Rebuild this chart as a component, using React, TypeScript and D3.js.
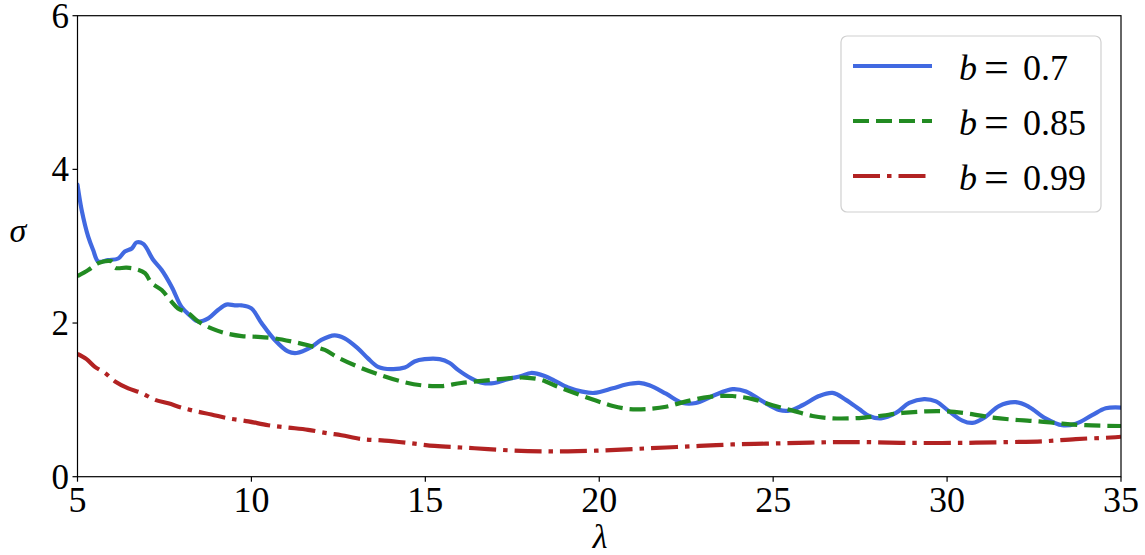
import React from 'react';
import * as d3 from 'd3';

// ---------- data ----------
const xTicks = [5, 10, 15, 20, 25, 30, 35];
const yTicks = [0, 2, 4, 6];

const lambdaBlue = [5.0, 5.12, 5.31, 5.45, 5.6, 5.88, 6.17, 6.36, 6.56, 6.7, 6.89, 7.18, 7.42, 7.71, 7.99, 8.23, 8.47, 8.76, 9.04, 9.28, 9.52, 9.72, 10.0, 10.29, 10.67, 11.05, 11.3, 11.73, 12.01, 12.39, 12.68, 13.06, 13.35, 13.64, 14.02, 14.41, 14.69, 14.98, 15.41, 15.7, 15.94, 16.32, 16.65, 16.99, 17.37, 17.76, 18.04, 18.43, 18.71, 19.1, 19.48, 19.86, 20.39, 20.77, 21.15, 21.44, 21.92, 22.4, 22.78, 23.26, 23.83, 24.22, 24.7, 25.17, 25.46, 25.84, 26.32, 26.71, 27.09, 27.47, 27.76, 28.1, 28.53, 28.91, 29.34, 29.68, 30.06, 30.44, 30.73, 31.11, 31.49, 31.97, 32.35, 32.83, 33.31, 33.7, 34.17, 34.56, 35.0];
const sigmaBlue = [3.8, 3.47, 3.12, 2.95, 2.8, 2.82, 2.84, 2.93, 2.97, 3.05, 3.03, 2.82, 2.69, 2.47, 2.21, 2.1, 2.02, 2.06, 2.17, 2.24, 2.23, 2.23, 2.19, 2.0, 1.78, 1.63, 1.61, 1.69, 1.78, 1.84, 1.8, 1.67, 1.54, 1.43, 1.4, 1.42, 1.5, 1.53, 1.53, 1.48, 1.39, 1.28, 1.22, 1.22, 1.27, 1.31, 1.35, 1.31, 1.25, 1.16, 1.11, 1.09, 1.15, 1.2, 1.22, 1.19, 1.08, 0.96, 0.96, 1.05, 1.14, 1.11, 0.98, 0.87, 0.86, 0.93, 1.05, 1.09, 1.0, 0.88, 0.79, 0.76, 0.83, 0.96, 1.01, 0.98, 0.85, 0.73, 0.7, 0.78, 0.92, 0.97, 0.91, 0.76, 0.67, 0.69, 0.8, 0.89, 0.9];

const lambdaGreen = [5.0, 5.31, 5.6, 5.88, 6.0, 6.08, 6.41, 6.7, 6.94, 7.13, 7.42, 7.66, 7.89, 8.18, 8.47, 8.85, 9.24, 9.72, 10.19, 10.67, 11.15, 11.63, 12.11, 12.45, 12.97, 13.54, 14.31, 14.88, 15.46, 16.03, 16.7, 17.37, 17.85, 18.33, 18.81, 19.29, 19.77, 20.1, 20.39, 20.87, 21.35, 21.92, 22.5, 23.17, 23.83, 24.41, 24.98, 25.56, 26.13, 26.71, 27.28, 27.62, 28.05, 28.72, 29.39, 29.96, 30.63, 31.3, 31.97, 32.64, 33.31, 33.98, 35.0];
const sigmaGreen = [2.61, 2.69, 2.78, 2.81, 2.8, 2.72, 2.72, 2.7, 2.65, 2.52, 2.43, 2.3, 2.19, 2.13, 2.02, 1.93, 1.87, 1.83, 1.82, 1.8, 1.76, 1.71, 1.65, 1.56, 1.45, 1.35, 1.24, 1.19, 1.18, 1.22, 1.25, 1.28, 1.29, 1.26, 1.17, 1.09, 1.01, 0.96, 0.92, 0.88, 0.88, 0.91, 0.98, 1.04, 1.05, 1.01, 0.93, 0.86, 0.79, 0.76, 0.76, 0.77, 0.79, 0.83, 0.85, 0.85, 0.82, 0.77, 0.74, 0.72, 0.69, 0.67, 0.66];

const lambdaRed = [5.0, 5.26, 5.5, 5.79, 6.08, 6.46, 6.84, 7.23, 7.61, 7.99, 8.37, 8.85, 9.33, 9.91, 10.48, 11.05, 11.63, 12.2, 12.59, 13.16, 13.83, 14.5, 15.27, 16.03, 16.8, 17.56, 18.33, 19.1, 20.0, 20.96, 21.92, 22.88, 23.83, 24.79, 25.75, 26.71, 27.62, 28.91, 30.34, 31.77, 32.74, 33.7, 34.7, 35.0];
const sigmaRed = [1.6, 1.53, 1.43, 1.35, 1.24, 1.15, 1.09, 1.0, 0.955, 0.9, 0.855, 0.81, 0.76, 0.72, 0.67, 0.64, 0.61, 0.565, 0.54, 0.49, 0.47, 0.44, 0.4, 0.38, 0.36, 0.34, 0.33, 0.33, 0.34, 0.36, 0.38, 0.4, 0.42, 0.43, 0.44, 0.45, 0.45, 0.44, 0.44, 0.45, 0.46, 0.49, 0.51, 0.52];

const seriesLabels = ['0.7', '0.85', '0.99'];
const seriesColors = ['#4169E1', '#228B22', '#B22222'];
const seriesDash = ['none', '16 7', '27 7 4.5 7'];

// ---------- layout ----------
const W = 1145;
const H = 555;
const left = 77.5;
const right = 1121;
const top = 15.7;
const bottom = 476.7;
const FONT = '"Liberation Serif", "DejaVu Serif", serif';

export default function App() {
  const x = d3.scaleLinear().domain([5, 35]).range([left, right]);
  const y = d3.scaleLinear().domain([0, 6]).range([bottom, top]);

  const series = [
    { xs: lambdaBlue, ys: sigmaBlue },
    { xs: lambdaGreen, ys: sigmaGreen },
    { xs: lambdaRed, ys: sigmaRed },
  ].map((s, i) => ({
    pts: s.xs.map((v, k) => [v, s.ys[k]] as [number, number]),
    color: seriesColors[i],
    dash: seriesDash[i],
    label: seriesLabels[i],
  }));

  const line = d3
    .line<[number, number]>()
    .x((d) => x(d[0]))
    .y((d) => y(d[1]))
    .curve(d3.curveCatmullRom.alpha(0.5));

  const lw = 4.2;
  const legendX = 841;
  const legendY = 36;
  const legendRowY = [66, 121, 176];

  return (
    <svg
      width={W}
      height={H}
      style={{ position: 'absolute', left: 0, top: 0, background: '#fff' }}
      fontFamily={FONT}
    >
      <rect x={0} y={0} width={W} height={H} fill="#fff" />
      <defs>
        <clipPath id="plot">
          <rect x={left} y={top} width={right - left} height={bottom - top} />
        </clipPath>
      </defs>

      <g clipPath="url(#plot)">
        {series.map((s, i) => (
          <path
            key={i}
            d={line(s.pts) || ''}
            fill="none"
            stroke={s.color}
            strokeWidth={lw}
            strokeDasharray={s.dash}
            strokeLinejoin="round"
            strokeLinecap={s.dash === 'none' ? 'round' : 'butt'}
          />
        ))}
      </g>

      {/* frame */}
      <rect x={left} y={top} width={right - left} height={bottom - top} fill="none" stroke="#000" strokeWidth={1.2} />

      {/* x ticks */}
      {xTicks.map((t) => (
        <g key={'x' + t}>
          <line x1={x(t)} x2={x(t)} y1={bottom} y2={bottom + 5} stroke="#000" strokeWidth={1.2} />
          <text x={x(t)} y={512} fontSize={36} textAnchor="middle" fill="#000">
            {t}
          </text>
        </g>
      ))}
      {/* y ticks */}
      {yTicks.map((t) => (
        <g key={'y' + t}>
          <line x1={left - 5} x2={left} y1={y(t)} y2={y(t)} stroke="#000" strokeWidth={1.2} />
          <text x={69} y={y(t) + 12} fontSize={35} textAnchor="end" fill="#000">
            {t}
          </text>
        </g>
      ))}

      {/* axis labels */}
      <text x={600} y={548} fontSize={34} fontStyle="italic" textAnchor="middle" fill="#000">
        λ
      </text>
      <text x={18} y={242} fontSize={34} fontStyle="italic" textAnchor="middle" fill="#000">
        σ
      </text>

      {/* legend */}
      <rect
        x={legendX}
        y={legendY}
        width={260}
        height={176}
        rx={6}
        ry={6}
        fill="#fff"
        fillOpacity={0.8}
        stroke="#d0d0d0"
        strokeWidth={1.2}
      />
      {series.map((s, i) => (
        <g key={'leg' + i}>
          <line
            x1={853}
            x2={932}
            y1={legendRowY[i]}
            y2={legendRowY[i]}
            stroke={s.color}
            strokeWidth={lw}
            strokeDasharray={s.dash}
          />
          <text y={legendRowY[i] + 14} fontSize={36} fill="#000">
            <tspan x={959} fontStyle="italic">b</tspan>
            <tspan x={984} fontSize={44} dy={2}>=</tspan>
            <tspan x={1023} fontSize={36} dy={-2}>{s.label}</tspan>
          </text>
        </g>
      ))}
    </svg>
  );
}
